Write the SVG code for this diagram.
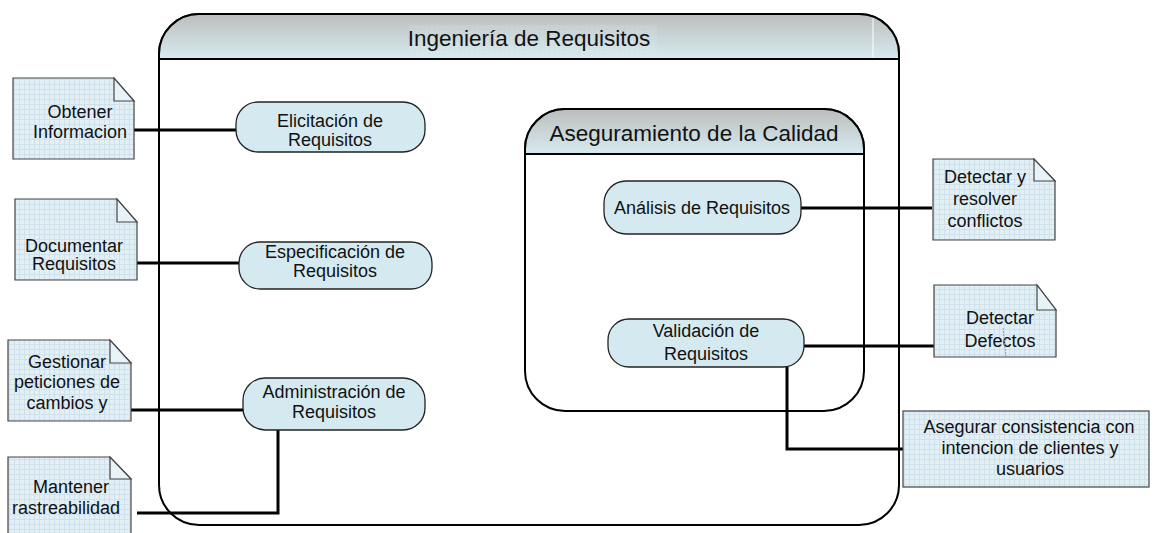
<svg xmlns="http://www.w3.org/2000/svg" width="1154" height="533" viewBox="0 0 1154 533">
<defs>
<linearGradient id="hdr" x1="0" y1="0" x2="0" y2="1">
<stop offset="0" stop-color="#bdbdbd"/>
<stop offset="1" stop-color="#d6ebf0"/>
</linearGradient>
<pattern id="grid" width="5" height="5" patternUnits="userSpaceOnUse">
<rect width="5" height="5" fill="#e2f0f6"/>
<path d="M4.5,0 V5 M0,4.5 H5" stroke="#cfe2eb" stroke-width="1"/>
</pattern>
<style>
.cont{fill:#fff;stroke:#000;stroke-width:2}
.hdr{fill:url(#hdr);stroke:#000;stroke-width:2}
.node{fill:#d5eaf0;stroke:#222;stroke-width:1.3}
.note{fill:url(#grid);stroke:#444;stroke-width:1.2}
.fold{fill:#e8f3f8;stroke:#444;stroke-width:1.2}
.conn{fill:none;stroke:#000;stroke-width:3}
text{font-family:"Liberation Sans",Arial,sans-serif;font-size:18px;fill:#111;text-anchor:middle}
.title{font-size:22.5px}
</style>
</defs>
<rect width="1154" height="533" fill="#fff"/>
<g id="ingenieria">
<path class="cont" d="M159,54 A40,40 0 0 1 199,14 H859 A40,40 0 0 1 899,54 V485 A40,40 0 0 1 859,525 H199 A40,40 0 0 1 159,485 Z"/>
<path class="hdr" d="M159,59 V54 A40,40 0 0 1 199,14 H859 A40,40 0 0 1 899,54 V59 Z"/>
<line x1="873" y1="18" x2="873" y2="58" stroke="#fff" stroke-width="1"/>
<rect x="409" y="25" width="248" height="31" fill="url(#grid)" opacity="0.18"/>
<text class="title" x="529" y="46">Ingeniería de Requisitos</text>
</g>
<g id="aseguramiento">
<path class="cont" d="M525,149 A40,40 0 0 1 565,109 H824 A40,40 0 0 1 864,149 V371 A40,40 0 0 1 824,411 H565 A40,40 0 0 1 525,371 Z"/>
<path class="hdr" d="M525,154 V149 A40,40 0 0 1 565,109 H824 A40,40 0 0 1 864,149 V154 Z"/>
<text class="title" x="694" y="141">Aseguramiento de la Calidad</text>
</g>
<g id="connectors">
<path class="conn" d="M134,130 H237"/>
<path class="conn" d="M137,263 H240"/>
<path class="conn" d="M130,410 H244"/>
<path class="conn" d="M137,513 H278 V430"/>
<path class="conn" d="M801,208 H932"/>
<path class="conn" d="M804,346 H934"/>
<path class="conn" d="M787,367 V449 H903"/>
</g>
<g id="elicitacion">
<rect class="node" x="236" y="102" width="189" height="50" rx="22"/>
<text x="330" y="127">Elicitación de</text>
<text x="330" y="146">Requisitos</text>
</g>
<g id="especificacion">
<rect class="node" x="239" y="242" width="193" height="47" rx="21"/>
<text x="335" y="258">Especificación de</text>
<text x="335" y="277">Requisitos</text>
</g>
<g id="administracion">
<rect class="node" x="243" y="378" width="182" height="52" rx="22"/>
<text x="334" y="398">Administración de</text>
<text x="334" y="418">Requisitos</text>
</g>
<g id="analisis">
<rect class="node" x="604" y="181" width="197" height="53" rx="22"/>
<text x="702" y="214">Análisis de Requisitos</text>
</g>
<g id="validacion">
<rect class="node" x="608" y="319" width="196" height="48" rx="21"/>
<text x="706" y="337">Validación de</text>
<text x="706" y="360">Requisitos</text>
</g>
<g id="obtener">
<path class="note" d="M13,78 H114 L134,101 V159 H13 Z"/>
<path class="fold" d="M114,78 V101 H134 Z"/>
<text x="80" y="118">Obtener</text>
<text x="80" y="138">Informacion</text>
</g>
<g id="documentar">
<path class="note" d="M15,199 H117 L137,222 V280 H15 Z"/>
<path class="fold" d="M117,199 V222 H137 Z"/>
<text x="74" y="252">Documentar</text>
<text x="74" y="270">Requisitos</text>
</g>
<g id="gestionar">
<path class="note" d="M8,340 H110 L131,363 V421 H8 Z"/>
<path class="fold" d="M110,340 V363 H131 Z"/>
<text x="67" y="368">Gestionar</text>
<text x="67" y="388">peticiones de</text>
<text x="67" y="409">cambios y</text>
</g>
<g id="mantener">
<path class="note" d="M8,457 H110 L131,479 V540 H8 Z"/>
<path class="fold" d="M110,457 V479 H131 Z"/>
<text x="71" y="493">Mantener</text>
<text x="66" y="514">rastreabilidad</text>
</g>
<g id="detectar-resolver">
<path class="note" d="M933,159 H1034 L1055,181 V240 H933 Z"/>
<path class="fold" d="M1034,159 V181 H1055 Z"/>
<text x="985" y="183">Detectar y</text>
<text x="985" y="205">resolver</text>
<text x="985" y="227">conflictos</text>
</g>
<g id="detectar-defectos">
<path class="note" d="M934,285 H1037 L1056,310 V357 H934 Z"/>
<path class="fold" d="M1037,285 V310 H1056 Z"/>
<text x="1000" y="324">Detectar</text>
<text x="1000" y="347">Defectos</text>
<line x1="1003" y1="328" x2="1006" y2="357" stroke="#999" stroke-width="1" stroke-dasharray="2,1"/>
</g>
<g id="asegurar">
<rect class="note" x="903" y="411" width="246" height="76"/>
<text x="1029" y="433">Asegurar consistencia con</text>
<text x="1030" y="454">intencion de clientes y</text>
<text x="1030" y="475">usuarios</text>
</g>
</svg>
